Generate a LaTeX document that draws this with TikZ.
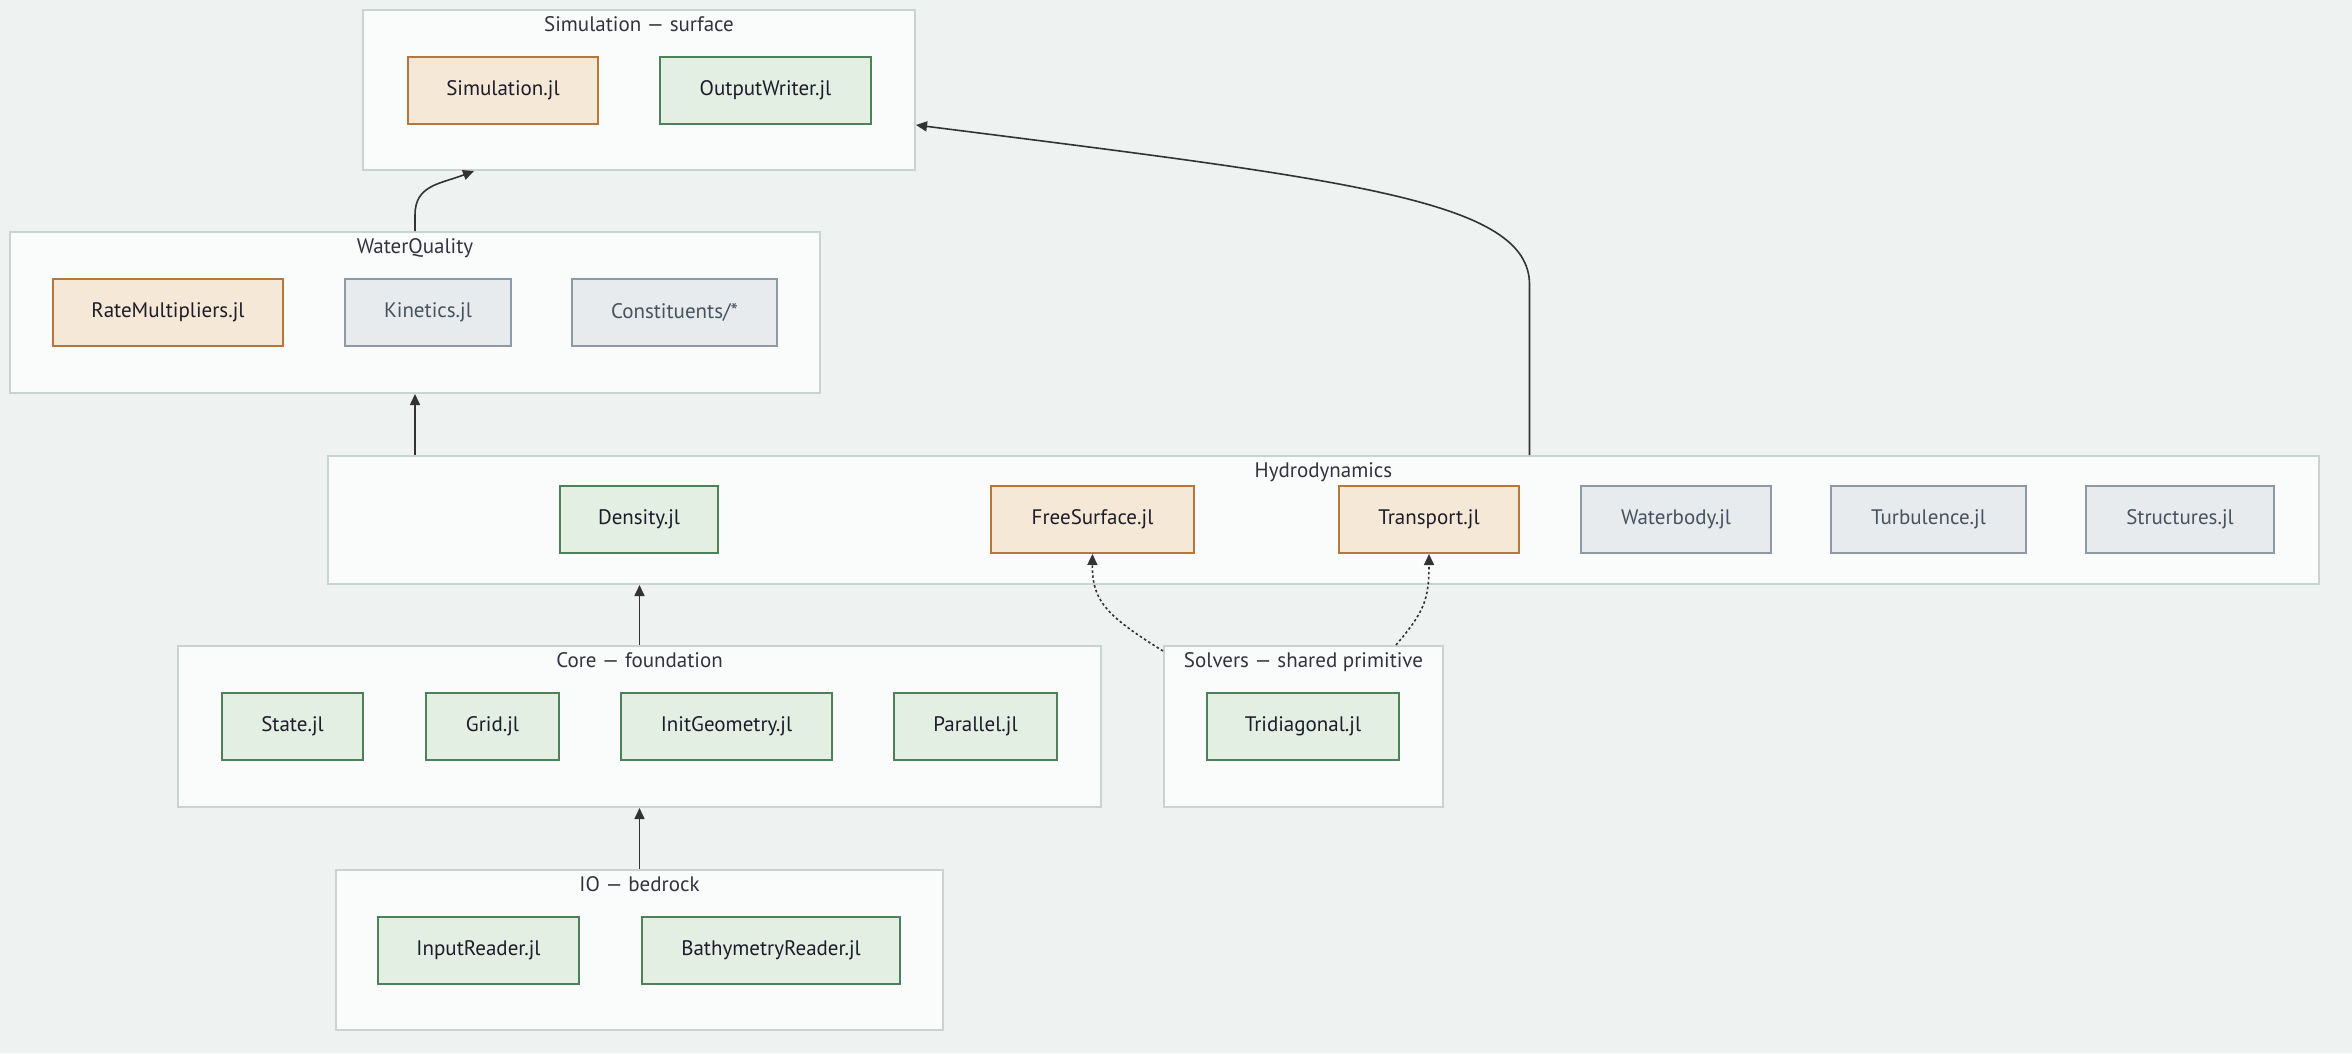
\documentclass[tikz,border=0pt]{standalone}
\usepackage{fontspec}
\setmainfont{PT Sans}
\usepackage{tikz}
\usetikzlibrary{arrows.meta}

\definecolor{bgcol}{HTML}{EEF2F0}
\definecolor{clfill}{HTML}{FAFCFB}
\definecolor{cldraw}{HTML}{C9D4D0}
\definecolor{orfill}{HTML}{F5E8D7}
\definecolor{ordraw}{HTML}{B8773A}
\definecolor{grfill}{HTML}{E4EFE4}
\definecolor{grdraw}{HTML}{4E8059}
\definecolor{gyfill}{HTML}{E7EBEE}
\definecolor{gydraw}{HTML}{8D9AA6}
\definecolor{gytext}{HTML}{46525E}
\definecolor{ink}{HTML}{1C1C2A}
\definecolor{edgecol}{HTML}{333333}

\begin{document}
\begin{tikzpicture}[x=1pt, y=-1pt, font=\fontsize{21}{25}\selectfont,
	cluster/.style={draw=cldraw, fill=clfill, line width=2pt, inner sep=0pt},
	title/.style={anchor=base, text=ink!90},
	mod/.style={rectangle, line width=2pt, minimum height=67pt, inner sep=0pt, text=ink},
	hot/.style={mod, draw=ordraw, fill=orfill},
	done/.style={mod, draw=grdraw, fill=grfill},
	todo/.style={mod, draw=gydraw, fill=gyfill, text=gytext},
	dep/.style={draw=edgecol, line width=1.6pt, -{Triangle[length=11pt, width=10pt]}},
	uses/.style={dep, dash pattern=on 2.5pt off 2.5pt}]
	\useasboundingbox[fill=bgcol] (0,0) rectangle (2352,1053);
	% clusters
	\node[cluster, minimum width=552pt, minimum height=160pt] (sim) at (639,90) {};
	\node[title] at (639,31) {Simulation — surface};
	\node[cluster, minimum width=810pt, minimum height=161pt] (wq) at (415,312.5) {};
	\node[title] at (415,253) {WaterQuality};
	\node[cluster, minimum width=1991pt, minimum height=128pt] (hydro) at (1323.5,520) {};
	\node[title] at (1323.5,477) {Hydrodynamics};
	\node[cluster, minimum width=923pt, minimum height=161pt] (core) at (639.5,726.5) {};
	\node[title] at (639.5,667) {Core — foundation};
	\node[cluster, minimum width=279pt, minimum height=161pt] (solv) at (1303.5,726.5) {};
	\node[title] at (1303.5,667) {Solvers — shared primitive};
	\node[cluster, minimum width=607pt, minimum height=160pt] (io) at (639.5,950) {};
	\node[title] at (639.5,891) {IO — bedrock};
	% modules
	\node[hot, minimum width=190pt] (simjl) at (503,90) {Simulation.jl};
	\node[done, minimum width=211pt] (output) at (765.5,90) {OutputWriter.jl};
	\node[hot, minimum width=230pt] (rate) at (168,312.5) {RateMultipliers.jl};
	\node[todo, minimum width=166pt] (kin) at (428,312.5) {Kinetics.jl};
	\node[todo, minimum width=205pt] (const) at (674.5,312.5) {Constituents/*};
	\node[done, minimum width=158pt] (dens) at (639,519.5) {Density.jl};
	\node[hot, minimum width=203pt] (free) at (1092.5,519.5) {FreeSurface.jl};
	\node[hot, minimum width=180pt] (trans) at (1429,519.5) {Transport.jl};
	\node[todo, minimum width=190pt] (wbody) at (1676,519.5) {Waterbody.jl};
	\node[todo, minimum width=195pt] (turb) at (1928.5,519.5) {Turbulence.jl};
	\node[todo, minimum width=188pt] (struct) at (2180,519.5) {Structures.jl};
	\node[done, minimum width=141pt] (state) at (292.5,726.5) {State.jl};
	\node[done, minimum width=133pt] (grid) at (492.5,726.5) {Grid.jl};
	\node[done, minimum width=211pt] (initgeo) at (726.5,726.5) {InitGeometry.jl};
	\node[done, minimum width=163pt] (par) at (975.5,726.5) {Parallel.jl};
	\node[done, minimum width=192pt] (tridiag) at (1303,726.5) {Tridiagonal.jl};
	\node[done, minimum width=201pt] (input) at (478.5,950) {InputReader.jl};
	\node[done, minimum width=258pt] (bathy) at (771,950) {BathymetryReader.jl};
	% dependencies
	\draw[dep] (io.north) -- (core.south);
	\draw[dep] (core.north) -- (core.north |- hydro.south);
	\draw[dep] (wq.south |- hydro.north) -- (wq.south);
	\draw[dep] (wq.north) -- ++(0,-16) .. controls (415,185) and (440,184) .. ([xshift=-165pt]sim.south);
	\draw[dep] ([xshift=206pt]hydro.north) -- ++(0,-170) .. controls (1530,200) and (1350,180) .. ([yshift=-35pt]sim.east);
	\draw[uses] ([yshift=-6pt]solv.north west) .. controls (1105,615) and (1092,600) .. (free.south);
	\draw[uses] ([xshift=-48pt]solv.north east) .. controls (1424,612) and (1429,600) .. (trans.south);
\end{tikzpicture}
\end{document}
